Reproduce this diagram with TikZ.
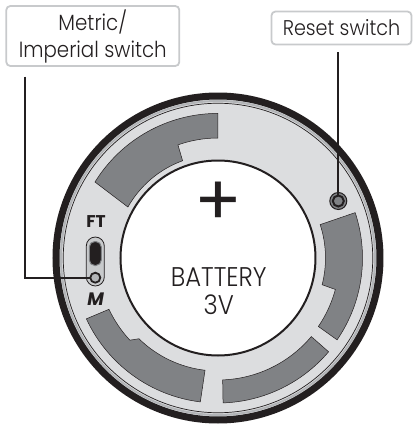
\documentclass[tikz,border=0pt]{standalone}
\usepackage{fontspec}
\setmainfont{Poppins Light}[FakeStretch=0.9]
\newfontfamily\plusfont{Poppins}
\newfontfamily\markfont{Poppins Bold}[ItalicFont=Poppins Bold Italic]
\usepackage{xcolor}
\usetikzlibrary{positioning,calc}
\definecolor{ringgray}{HTML}{DCDDDF}
\definecolor{padgray}{HTML}{808285}
\definecolor{boxgray}{HTML}{C8CACC}
\definecolor{linkblack}{HTML}{231F20}

\begin{document}
\begin{tikzpicture}[
      x = 1pt, y = 1pt,
      ring/.style = {circle, outer sep=0pt, inner sep=0pt},
      callout/.style = {draw=boxgray, line width=1.8pt, rounded corners=4pt, fill=white, align=center,
        inner sep=0pt, outer sep=0pt, text=linkblack, font=\fontsize{22}{27}\selectfont},
      pad/.style = {fill=padgray, draw=linkblack, line width=0.5pt},
      leader/.style = {draw=linkblack, line width=2pt}
    ]
    \useasboundingbox (-218,-166) rectangle (195,258);
    % case
    \node (case) [ring, fill=ringgray, draw=linkblack, line width=7pt, minimum size=324pt] at (0,0) {};
    \node (rim) [ring, draw=boxgray!70!padgray, line width=2pt, minimum size=314pt] at (0,0) {};
    \node (edge) [ring, draw=linkblack, line width=0.7pt, minimum size=309.5pt] at (0,0) {};
    % contact pads
    \draw[pad] (148.3:144.6) arc (148.3:90:144.6) -- (90:120) arc (90:109.5:120) -- (110:103.5)
      arc (110:150.5:103.5) -- cycle;
    \draw[pad] (204.8:145) arc (204.8:263:145) -- (263.4:113) arc (263.4:225.6:113) -- (223:120.5)
      arc (223:205.2:120.5) -- cycle;
    \draw[pad] (272:145) arc (272:319.7:145) -- (319.9:122) arc (319.9:272.2:122) -- cycle;
    \draw[pad] (325.5:144.5) arc (-34.5:18.3:144.5) -- (18.1:107.5) arc (18.1:-14.4:107.5) -- (-15:121.5)
      arc (-15:-34.3:121.5) -- cycle;
    % battery
    \node (battery) [ring, fill=white, draw=linkblack, line width=2pt, minimum size=195pt] at (0,0) {};
    \node (label) [text=linkblack, align=center, inner sep=0pt, font=\fontsize{27}{28.5}\selectfont] at (0.7,-33) {BATTERY\\3V};
    \node (plus) [text=linkblack, font=\fontsize{70}{70}\plusfont, inner sep=0pt] at (0.7,54) {+};
    % switches
    \node (slider) [draw=linkblack, fill=boxgray, line width=0.8pt, rounded corners=9pt, minimum width=18pt,
      minimum height=49pt, inner sep=0pt] at (-122.7,-3.5) {};
    \node (slot) [fill=linkblack, draw=padgray, line width=1pt, rounded corners=5.5pt, minimum width=12pt,
      minimum height=24pt, inner sep=0pt] at (-122.7,4.5) {};
    \node (metric) [ring, fill=boxgray!70!padgray, draw=linkblack, line width=1.8pt, minimum size=10pt]
      at (-122.7,-19.7) {};
    \node (ft) [text=linkblack, inner sep=0pt, font=\fontsize{17}{17}\markfont] at (-122,36.5) {FT};
    \node (m) [text=linkblack, inner sep=0pt, font=\fontsize{18}{18}\markfont\itshape] at (-122.3,-41.5) {M};
    \node (resetring) [ring, fill=padgray, draw=linkblack, line width=1pt, minimum size=17pt] at (120.3,57) {};
    \node (reset) [ring, fill=padgray, draw=linkblack, line width=2pt, minimum size=11pt] at (120.3,57) {};
    % callouts
    \node (metricbox) [callout, minimum width=173pt, minimum height=60pt] at (-125.2,222) {Metric/\\Imperial switch};
    \node (resetbox) [callout, minimum width=140pt, minimum height=33pt, font=\fontsize{21.3}{27}\selectfont] at (123.5,230) {Reset switch};
    \coordinate (metricend) at (-192.5,181.3);
    \coordinate (resetend) at (120.3,206);
    \draw[leader] (metricend) |- (metric.west);
    \draw[leader] (resetend) -- (reset.north);
  \end{tikzpicture}
\end{document}
